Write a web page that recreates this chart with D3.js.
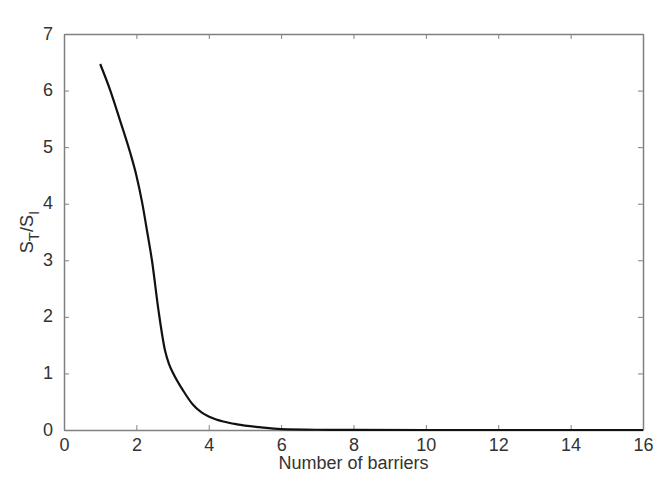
<!DOCTYPE html>
<html><head><meta charset="utf-8">
<script src="https://cdn.jsdelivr.net/npm/d3@7"></script>
<style>body{margin:0;background:#fff}svg{display:block}text{font-family:"Liberation Sans",Arial,sans-serif;fill:#333}</style>
</head><body>
<script>
const barriers = [1,1.28,1.55,1.83,2.0,2.16,2.3,2.43,2.61,2.79,2.9,3.02,3.3,3.56,3.8,4.03,4.4,4.78,5.4,6,7,8,10,12,14,16];
const ratio = [6.47,6.0,5.47,4.9,4.5,4.02,3.5,3.0,2.12,1.41,1.17,1.0,0.69,0.45,0.31,0.23,0.15,0.1,0.05,0.015,0.004,0.001,0,0,0,0];
const xTicks = [0,2,4,6,8,10,12,14,16];
const yTicks = [0,1,2,3,4,5,6,7];

const W=669,H=487, L=64, R=643, T=34, B=430;
const svg=d3.select("body").append("svg").attr("width",W).attr("height",H);
const x=d3.scaleLinear().domain([0,16]).range([L,R]);
const y=d3.scaleLinear().domain([0,7]).range([B,T]);
const ax="#808080";

const gb=svg.append("g").attr("transform",`translate(0,${B})`).call(d3.axisBottom(x).tickValues(xTicks).tickFormat(d3.format("d")).tickSizeInner(-5).tickSizeOuter(0).tickPadding(8));
const gl=svg.append("g").attr("transform",`translate(${L},0)`).call(d3.axisLeft(y).tickValues(yTicks).tickFormat(d3.format("d")).tickSizeInner(-5).tickSizeOuter(0).tickPadding(11));
const gt=svg.append("g").attr("transform",`translate(0,${T})`).call(d3.axisTop(x).tickValues(xTicks).tickSizeInner(-5).tickSizeOuter(0).tickFormat(""));
const gr=svg.append("g").attr("transform",`translate(${R},0)`).call(d3.axisRight(y).tickValues(yTicks).tickSizeInner(-5).tickSizeOuter(0).tickFormat(""));
[gb,gl,gt,gr].forEach(g=>{
  g.select(".domain").attr("stroke",ax).attr("stroke-width",1.5);
  g.selectAll(".tick line").attr("stroke",ax).attr("stroke-width",1);
  g.selectAll(".tick text").attr("font-size",18).attr("fill","#333").attr("font-family","Liberation Sans, Arial, sans-serif");
});
gl.selectAll(".tick text").attr("dy","0.28em");

svg.append("path").datum(barriers.map((b,i)=>[b,ratio[i]]))
  .attr("fill","none").attr("stroke","#111").attr("stroke-width",2.2)
  .attr("d",d3.line().x(d=>x(d[0])).y(d=>y(d[1])).curve(d3.curveMonotoneX));

svg.append("text").attr("x",(L+R)/2).attr("y",469).attr("text-anchor","middle").attr("font-size",18).text("Number of barriers");

const yl=svg.append("text").attr("transform",`translate(33,${(T+B)/2}) rotate(-90)`).attr("text-anchor","middle").attr("font-size",18);
yl.append("tspan").text("S");
yl.append("tspan").attr("font-size",15).attr("dy",6).text("T");
yl.append("tspan").attr("dy",-6).text("/S");
yl.append("tspan").attr("font-size",15).attr("dy",6).text("I");
</script>
</body></html>
